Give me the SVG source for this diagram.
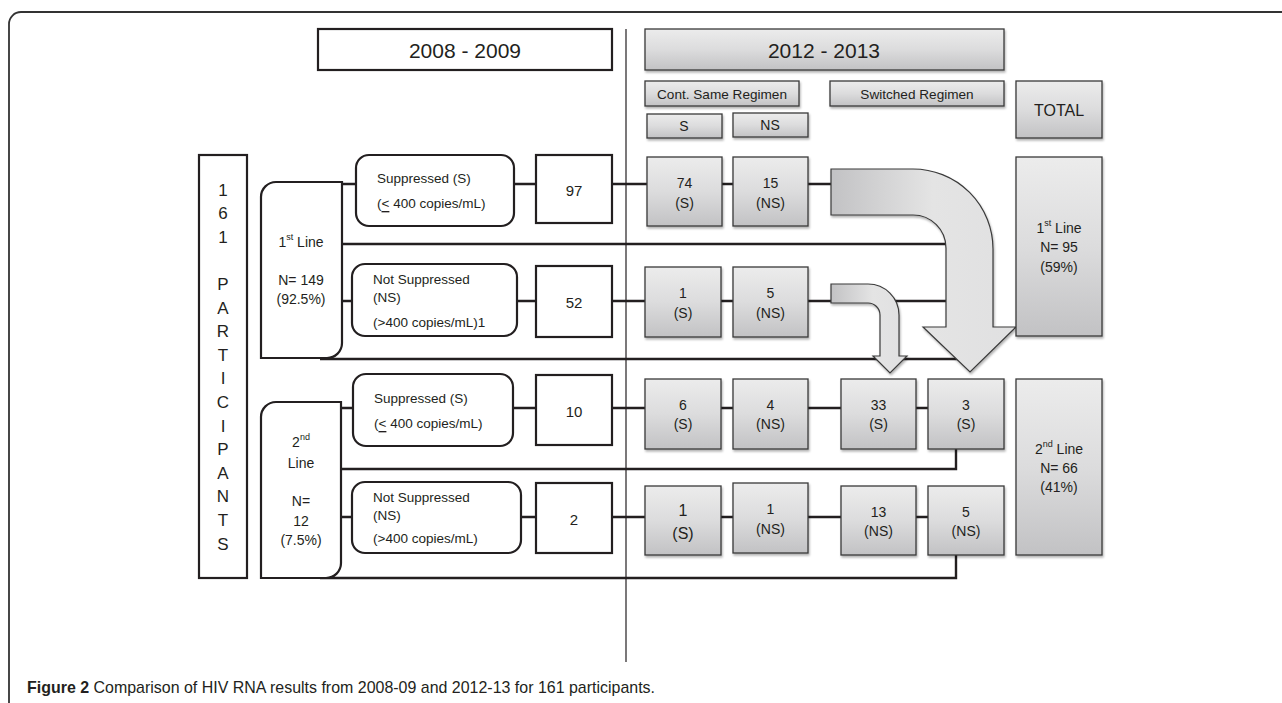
<svg xmlns="http://www.w3.org/2000/svg" width="1282" height="703" viewBox="0 0 1282 703">
<defs>
  <linearGradient id="gbox" x1="0" y1="0" x2="0" y2="1">
    <stop offset="0" stop-color="#ececec"/>
    <stop offset="0.5" stop-color="#dcdcdd"/>
    <stop offset="1" stop-color="#c2c2c4"/>
  </linearGradient>
  <linearGradient id="garrow" x1="0" y1="0" x2="1" y2="0">
    <stop offset="0" stop-color="#c2c2c4"/>
    <stop offset="0.55" stop-color="#e4e4e4"/>
    <stop offset="1" stop-color="#e0e0e1"/>
  </linearGradient>
  <filter id="sh" x="-10%" y="-10%" width="130%" height="130%">
    <feDropShadow dx="1" dy="2" stdDeviation="1.2" flood-color="#000" flood-opacity="0.3"/>
  </filter>
</defs>
<style>
  .t{font-family:"Liberation Sans",Arial,sans-serif;fill:#231f20;dominant-baseline:central}
  .c{text-anchor:middle}
  .w{fill:#fff;stroke:#231f20;stroke-width:2.2}
  .g{fill:url(#gbox);stroke:#3a3a3a;stroke-width:1.3;filter:url(#sh)}
  .ar{fill:url(#garrow);stroke:#3a3a3a;stroke-width:1.2;filter:url(#sh)}
  .ln{fill:none;stroke:#231f20;stroke-width:2.4}
  .f13{font-size:13.5px}
  .f14{font-size:14px}
  .f15{font-size:15px}
  .let{font-size:17px;text-anchor:middle}
  sup{font-size:9px}
</style>

<!-- page frame -->
<path d="M9,703 V24 A12,12 0 0 1 21,12 H1282" fill="none" stroke="#333" stroke-width="1.8"/>

<!-- divider -->
<line x1="626" y1="29" x2="626" y2="662" stroke="#231f20" stroke-width="1.2"/>

<!-- connectors -->
<g id="connectors" class="ln">
  <!-- row 1 -->
  <path d="M342,184 H356 M514,184 H536 M612,184 H647 M722,184 H733 M808,184 H832"/>
  <!-- row 2 -->
  <path d="M342,301 H352 M517,301 H536 M612,301 H645 M721,301 H733 M808,301 H947"/>
  <!-- 1st line totals -->
  <path d="M342,244 H947"/>
  <path d="M320,359 H960"/>
  <!-- row 3 -->
  <path d="M341,408 H353 M513,408 H536 M612,408 H645 M721,408 H733 M808,408 H841 M916,408 H928"/>
  <path d="M341,469 H956 V449"/>
  <!-- row 4 -->
  <path d="M341,517 H352 M521,517 H536 M612,517 H645 M721,517 H733 M808,517 H841 M916,517 H928"/>
  <path d="M320,578 H956 V555"/>
</g>

<!-- arrows -->
<g id="arrow-big">
  <path class="ar" d="M831,169 H913 A80,80 0 0 1 993,249 V327 H1016 L970,372 L923,327 H946 V248 A33,33 0 0 0 913,215 H831 Z"/>
</g>
<g id="arrow-small">
  <path class="ar" d="M831,284 H868 A31,31 0 0 1 899,315 V356 H907 L890,373 L873,356 H880 V315 A12,12 0 0 0 868,303 H831 Z"/>
</g>

<!-- headers -->
<g id="hdr-2008">
  <rect class="w" x="318" y="29" width="294" height="41"/>
  <text class="t c" x="465" y="50" font-size="21">2008 - 2009</text>
</g>
<g id="hdr-2012">
  <rect class="g" x="645" y="29" width="359" height="41"/>
  <text class="t c" x="824" y="50" font-size="21">2012 - 2013</text>
</g>
<g id="hdr-cont">
  <rect class="g" x="645" y="81" width="154" height="25"/>
  <text class="t c" x="722" y="94" font-size="13.6">Cont. Same Regimen</text>
</g>
<g id="hdr-switched">
  <rect class="g" x="830" y="81" width="174" height="25"/>
  <text class="t c" x="917" y="94" font-size="13.6">Switched Regimen</text>
</g>
<g id="hdr-total">
  <rect class="g" x="1016" y="81" width="86" height="57"/>
  <text class="t c" x="1059" y="110" font-size="16">TOTAL</text>
</g>
<g id="hdr-s">
  <rect class="g" x="647" y="114" width="75" height="24"/>
  <text class="t c f14" x="684" y="126">S</text>
</g>
<g id="hdr-ns">
  <rect class="g" x="733" y="113" width="75" height="24"/>
  <text class="t c f14" x="770" y="125">NS</text>
</g>

<!-- participants -->
<g id="participants">
  <rect class="w" x="199" y="155" width="48" height="423"/>
  <text class="t let" x="223" y="190">1</text>
  <text class="t let" x="223" y="213.6">6</text>
  <text class="t let" x="223" y="237.2">1</text>
  <text class="t let" x="223" y="284.4">P</text>
  <text class="t let" x="223" y="308">A</text>
  <text class="t let" x="223" y="331.6">R</text>
  <text class="t let" x="223" y="355.2">T</text>
  <text class="t let" x="223" y="378.8">I</text>
  <text class="t let" x="223" y="402.4">C</text>
  <text class="t let" x="223" y="426">I</text>
  <text class="t let" x="223" y="449.6">P</text>
  <text class="t let" x="223" y="473.2">A</text>
  <text class="t let" x="223" y="496.8">N</text>
  <text class="t let" x="223" y="520.4">T</text>
  <text class="t let" x="223" y="544">S</text>
</g>

<!-- 1st line group -->
<g id="first-line">
  <path class="w" d="M276,182 H342 V343 A15,15 0 0 1 327,358 H261 V197 A15,15 0 0 1 276,182 Z"/>
  <text class="t c f14" x="301" y="242">1<tspan font-size="9" dy="-5">st</tspan><tspan dy="5"> Line</tspan></text>
  <text class="t c f14" x="301" y="280">N= 149</text>
  <text class="t c f14" x="301" y="299">(92.5%)</text>
</g>
<g id="second-line">
  <path class="w" d="M276,402 H341 V563 A15,15 0 0 1 326,578 H261 V417 A15,15 0 0 1 276,402 Z"/>
  <text class="t c f14" x="301" y="442">2<tspan font-size="9" dy="-5">nd</tspan></text>
  <text class="t c f14" x="301" y="463">Line</text>
  <text class="t c f14" x="301" y="501">N=</text>
  <text class="t c f14" x="301" y="521">12</text>
  <text class="t c f14" x="301" y="540">(7.5%)</text>
</g>

<!-- 2008 status boxes -->
<g id="s1">
  <rect class="w" x="356" y="155" width="158" height="71" rx="13"/>
  <text class="t f13" x="377" y="178">Suppressed (S)</text>
  <text class="t f13" x="377" y="203">(<tspan text-decoration="underline">&lt;</tspan> 400 copies/mL)</text>
</g>
<g id="ns1">
  <rect class="w" x="352" y="264" width="165" height="72" rx="13"/>
  <text class="t f13" x="373" y="279">Not Suppressed</text>
  <text class="t f13" x="373" y="297">(NS)</text>
  <text class="t f13" x="373" y="322">(&gt;400 copies/mL)1</text>
</g>
<g id="s2">
  <rect class="w" x="353" y="374" width="160" height="72" rx="13"/>
  <text class="t f13" x="374" y="398">Suppressed (S)</text>
  <text class="t f13" x="374" y="423">(<tspan text-decoration="underline">&lt;</tspan> 400 copies/mL)</text>
</g>
<g id="ns2">
  <rect class="w" x="352" y="482" width="169" height="71" rx="13"/>
  <text class="t f13" x="373" y="497">Not Suppressed</text>
  <text class="t f13" x="373" y="515">(NS)</text>
  <text class="t f13" x="373" y="538">(&gt;400 copies/mL)</text>
</g>

<!-- counts -->
<g id="n97"><rect class="w" x="536" y="155" width="76" height="68"/><text class="t c f15" x="574" y="190">97</text></g>
<g id="n52"><rect class="w" x="536" y="266" width="76" height="71"/><text class="t c f15" x="574" y="302">52</text></g>
<g id="n10"><rect class="w" x="536" y="375" width="76" height="70"/><text class="t c f15" x="574" y="411">10</text></g>
<g id="n2"><rect class="w" x="536" y="483" width="76" height="70"/><text class="t c f15" x="574" y="519">2</text></g>

<!-- 2012 row 1 -->
<g id="r1s"><rect class="g" x="647" y="157" width="75" height="69"/><text class="t c f14" x="684.5" y="183">74</text><text class="t c f14" x="684.5" y="203">(S)</text></g>
<g id="r1ns"><rect class="g" x="733" y="157" width="75" height="69"/><text class="t c f14" x="770.5" y="183">15</text><text class="t c f14" x="770.5" y="203">(NS)</text></g>
<!-- row 2 -->
<g id="r2s"><rect class="g" x="645" y="267" width="76" height="70"/><text class="t c f14" x="683" y="293">1</text><text class="t c f14" x="683" y="313">(S)</text></g>
<g id="r2ns"><rect class="g" x="733" y="267" width="75" height="70"/><text class="t c f14" x="770.5" y="293">5</text><text class="t c f14" x="770.5" y="313">(NS)</text></g>
<!-- row 3 -->
<g id="r3s"><rect class="g" x="645" y="379" width="76" height="70"/><text class="t c f14" x="683" y="405">6</text><text class="t c f14" x="683" y="424">(S)</text></g>
<g id="r3ns"><rect class="g" x="733" y="379" width="75" height="70"/><text class="t c f14" x="770.5" y="405">4</text><text class="t c f14" x="770.5" y="424">(NS)</text></g>
<g id="r3sw-s"><rect class="g" x="841" y="379" width="75" height="70"/><text class="t c f14" x="878.5" y="405">33</text><text class="t c f14" x="878.5" y="424">(S)</text></g>
<g id="r3sw-ns"><rect class="g" x="928" y="379" width="76" height="70"/><text class="t c f14" x="966" y="405">3</text><text class="t c f14" x="966" y="424">(S)</text></g>
<!-- row 4 -->
<g id="r4s"><rect class="g" x="645" y="486" width="76" height="69"/><text class="t c" font-size="16" x="683" y="510">1</text><text class="t c" font-size="16" x="683" y="533">(S)</text></g>
<g id="r4ns"><rect class="g" x="733" y="483" width="75" height="70"/><text class="t c f14" x="770.5" y="509">1</text><text class="t c f14" x="770.5" y="529">(NS)</text></g>
<g id="r4sw-s"><rect class="g" x="841" y="486" width="75" height="69"/><text class="t c f14" x="878.5" y="512">13</text><text class="t c f14" x="878.5" y="531">(NS)</text></g>
<g id="r4sw-ns"><rect class="g" x="928" y="486" width="76" height="69"/><text class="t c f14" x="966" y="512">5</text><text class="t c f14" x="966" y="531">(NS)</text></g>

<!-- totals -->
<g id="tot1">
  <rect class="g" x="1016" y="157" width="86" height="179"/>
  <text class="t c f14" x="1059" y="228">1<tspan font-size="9" dy="-5">st</tspan><tspan dy="5"> Line</tspan></text>
  <text class="t c f14" x="1059" y="247">N= 95</text>
  <text class="t c f14" x="1059" y="267">(59%)</text>
</g>
<g id="tot2">
  <rect class="g" x="1016" y="379" width="86" height="176"/>
  <text class="t c f14" x="1059" y="449">2<tspan font-size="9" dy="-5">nd</tspan><tspan dy="5"> Line</tspan></text>
  <text class="t c f14" x="1059" y="468">N= 66</text>
  <text class="t c f14" x="1059" y="487">(41%)</text>
</g>

<!-- caption -->
<text class="t" x="27" y="687" font-size="17" textLength="628" lengthAdjust="spacingAndGlyphs"><tspan font-weight="bold">Figure 2</tspan> Comparison of HIV RNA results from 2008-09 and 2012-13 for 161 participants.</text>
</svg>
